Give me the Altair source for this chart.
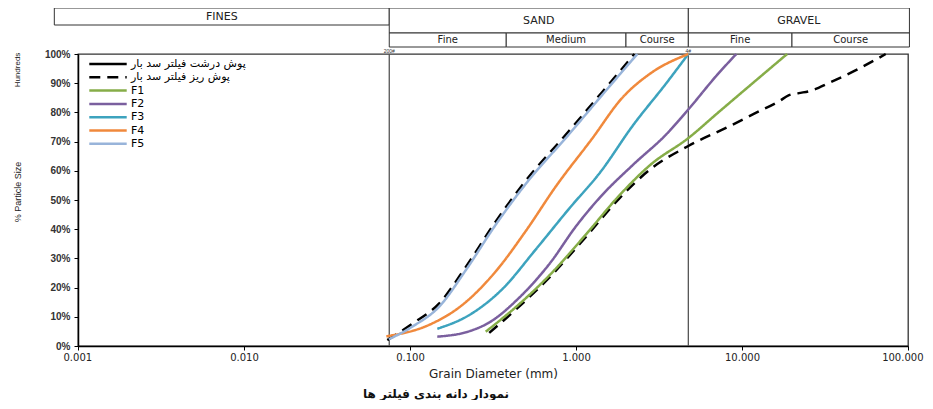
import altair as alt
import pandas as pd

# ---------------- data ----------------
series_names = ["پوش درشت فیلتر سد بار", "پوش ریز فیلتر سد بار", "F1", "F2", "F3", "F4", "F5"]
series_colors = ["#000000", "#000000", "#86AD48", "#7A5F9E", "#3DA3BE", "#F0893C", "#98B4DA"]
series_dashes = [[1, 0], [11, 7], [1, 0], [1, 0], [1, 0], [1, 0], [1, 0]]

# fine filter envelope (dashed), upper (fine) limit
fine_upper_size = [0.073, 0.103, 0.15, 0.217, 0.328, 0.498, 0.907, 1.44, 2.25]
fine_upper_pct = [2.0, 7.6, 14.6, 27.1, 42.6, 56.6, 73.6, 87.0, 100.0]
# fine filter envelope (dashed), lower (coarse) limit
fine_lower_size = [0.30, 0.454, 0.70, 1.14, 1.82, 2.8, 4.75, 8.35, 12.1, 16.7, 19.2, 22.0, 25.9, 33.4, 50.7, 73.4]
fine_lower_pct = [4.5, 13.5, 23.8, 37.2, 50.5, 60.5, 68.5, 75.2, 79.8, 83.8, 85.9, 86.6, 87.4, 90.1, 95.0, 100.0]

f1_size = [0.286, 0.454, 0.70, 1.14, 1.82, 2.8, 4.75, 7.27, 18.7]
f1_pct = [4.9, 14.3, 24.5, 38.0, 51.5, 62.0, 71.2, 80.2, 100.0]
f2_size = [0.146, 0.226, 0.299, 0.454, 0.70, 1.0, 1.4, 2.2, 3.5, 4.75, 7.0, 9.24]
f2_pct = [3.2, 5.0, 8.0, 16.5, 28.5, 41.0, 51.0, 62.0, 72.5, 81.0, 92.5, 100.0]
f3_size = [0.146, 0.226, 0.36, 0.571, 0.908, 1.40, 2.2, 3.5, 4.75]
f3_pct = [5.9, 10.5, 19.5, 33.0, 47.0, 59.5, 75.5, 90.0, 100.0]
f4_size = [0.072, 0.130, 0.206, 0.328, 0.50, 0.755, 1.25, 1.90, 2.8, 4.75]
f4_pct = [3.3, 7.2, 14.0, 25.5, 39.5, 54.6, 71.0, 85.0, 93.3, 100.0]
f5_size = [0.0746, 0.103, 0.15, 0.217, 0.328, 0.498, 0.907, 1.44, 2.34]
f5_pct = [2.3, 6.6, 13.5, 26.0, 41.5, 55.5, 72.5, 86.0, 100.0]

# header (soil classes), grain-size bounds in mm
header_labels = ["FINES", "SAND", "GRAVEL", "Fine", "Medium", "Course", "Fine", "Course"]
header_lo = [0.00072, 0.075, 4.75, 0.075, 0.38, 2.0, 4.75, 20.0]
header_hi = [0.075, 4.75, 102.0, 0.38, 2.0, 4.75, 20.0, 102.0]
header_row = ["main_f", "main", "main", "sub", "sub", "sub", "sub", "sub"]

sieve_size = [0.075, 4.75]
sieve_label = ["200#", "4#"]

x_ticks = [0.001, 0.01, 0.1, 1, 10, 100]

# ---------------- tables ----------------
rows = []
curves = [
    (series_names[1], "upper", fine_upper_size, fine_upper_pct),
    (series_names[1], "lower", fine_lower_size, fine_lower_pct),
    ("F1", "a", f1_size, f1_pct),
    ("F2", "a", f2_size, f2_pct),
    ("F3", "a", f3_size, f3_pct),
    ("F4", "a", f4_size, f4_pct),
    ("F5", "a", f5_size, f5_pct),
]
for name, seg, sizes, pcts in curves:
    for s, p in zip(sizes, pcts):
        rows.append({"series": name, "seg": seg, "size": s, "pct": p / 100.0})
df = pd.DataFrame(rows)
df_black = df[df.series.isin(series_names[:2])]
df_col = df[~df.series.isin(series_names[:2])]

hdr = pd.DataFrame({"label": header_labels, "lo": header_lo, "hi": header_hi, "row": header_row})
hdr["mid"] = (hdr["lo"] * hdr["hi"]) ** 0.5

sv = pd.DataFrame({"size": sieve_size, "label": sieve_label})

# ---------------- scales ----------------
FONT = "Liberation Sans"
WIDE = "DejaVu Sans"
xs = alt.Scale(type="log", domain=[0.001, 100])
ys = alt.Scale(domain=[0, 1])
x_axis = alt.Axis(values=x_ticks, format=".3f", title="Grain Diameter (mm)", grid=False,
                  labelFont=WIDE, labelFontSize=10, labelColor="#222",
                  titleFont=WIDE, titleFontSize=12, titleFontWeight="normal", titleColor="#222",
                  titlePadding=6, tickSize=4, tickColor="#000", domainColor="#000", domainWidth=1.5,
                  labelFlush=True, labelFlushOffset=15)
y_axis = alt.Axis(values=[i / 10 for i in range(11)], format=".0%", title=None, grid=False,
                  labelFont=FONT, labelFontSize=10, labelFontWeight="bold", labelColor="#333",
                  tickSize=4, tickColor="#000", domainColor="#000", domainWidth=1.5, labelPadding=4)

legend = alt.Legend(title=None, orient="none", legendX=10, legendY=5, symbolType="stroke",
                    symbolSize=1400, symbolStrokeWidth=2.5, clipHeight=10, rowPadding=2.3,
                    labelFont=WIDE, labelFontSize=11, labelColor="#000", labelOffset=3,
                    padding=0, labelLimit=300)
color_enc = alt.Color("series:N", scale=alt.Scale(domain=series_names, range=series_colors), legend=legend)
dash_enc = alt.StrokeDash("series:N", scale=alt.Scale(domain=series_names, range=series_dashes), legend=legend)

X = lambda f: alt.X(f, type="quantitative", scale=xs, axis=x_axis)
Y = lambda f: alt.Y(f, type="quantitative", scale=ys, axis=y_axis)

# ---------------- layers ----------------
black = alt.Chart(df_black).mark_line(strokeWidth=2.5, interpolate="monotone").encode(
    x=X("size"), y=Y("pct"), color=color_enc, strokeDash=dash_enc, detail="seg:N")
colored = alt.Chart(df_col).mark_line(strokeWidth=2.5, interpolate="monotone").encode(
    x=X("size"), y=Y("pct"), color=color_enc, strokeDash=dash_enc, detail="seg:N")

rules = alt.Chart(sv).mark_rule(color="#555", strokeWidth=1.3).encode(x=X("size"))
sv_text = alt.Chart(sv).mark_text(fontSize=5, font=FONT, color="#333", dy=-3, align="center").encode(
    x=X("size"), y=alt.value(0), text="label")

h_main_f = alt.Chart(hdr[hdr.row == "main_f"]).mark_rect(fill="white", stroke="#333", strokeWidth=1).encode(
    x=X("lo"), x2="hi", y=alt.value(-46), y2=alt.value(-29))
h_main = alt.Chart(hdr[hdr.row == "main"]).mark_rect(fill="white", stroke="#333", strokeWidth=1).encode(
    x=X("lo"), x2="hi", y=alt.value(-46), y2=alt.value(-21))
h_sub = alt.Chart(hdr[hdr.row == "sub"]).mark_rect(fill="white", stroke="#333", strokeWidth=1).encode(
    x=X("lo"), x2="hi", y=alt.value(-21), y2=alt.value(-7))
t_main_f = alt.Chart(hdr[hdr.row == "main_f"]).mark_text(font=WIDE, fontSize=11, color="#222").encode(
    x=X("mid"), y=alt.value(-37), text="label")
t_main = alt.Chart(hdr[hdr.row == "main"]).mark_text(font=WIDE, fontSize=11, color="#222").encode(
    x=X("mid"), y=alt.value(-33), text="label")
t_sub = alt.Chart(hdr[hdr.row == "sub"]).mark_text(font=WIDE, fontSize=10, color="#222").encode(
    x=X("mid"), y=alt.value(-14), text="label")

ytitle = alt.Chart(pd.DataFrame({"t": ["% Particle Size"]})).mark_text(
    font=FONT, fontSize=9, angle=270, color="#222").encode(text="t", x=alt.value(-60), y=alt.value(138))
hund = alt.Chart(pd.DataFrame({"t": ["Hundreds"]})).mark_text(
    font=FONT, fontSize=8, angle=270, color="#222").encode(text="t", x=alt.value(-60), y=alt.value(16))
caption = alt.Chart(pd.DataFrame({"t": ["نمودار دانه بندی فیلتر ها"]})).mark_text(
    font=WIDE, fontSize=12, fontWeight="bold", color="#111").encode(
    text="t", x=alt.value(358), y=alt.value(340))

chart = alt.layer(
    h_main_f, h_main, h_sub, t_main_f, t_main, t_sub,
    rules, sv_text, black, colored, ytitle, hund, caption
).properties(
    width=830, height=292,
    autosize=alt.AutoSizeParams(type="none"),
    padding={"left": 70, "top": 46, "right": 17, "bottom": 54},
).configure_view(stroke="#333", strokeWidth=1.3)

chart.save("out.html", embed_options={"renderer": "svg", "actions": False})
